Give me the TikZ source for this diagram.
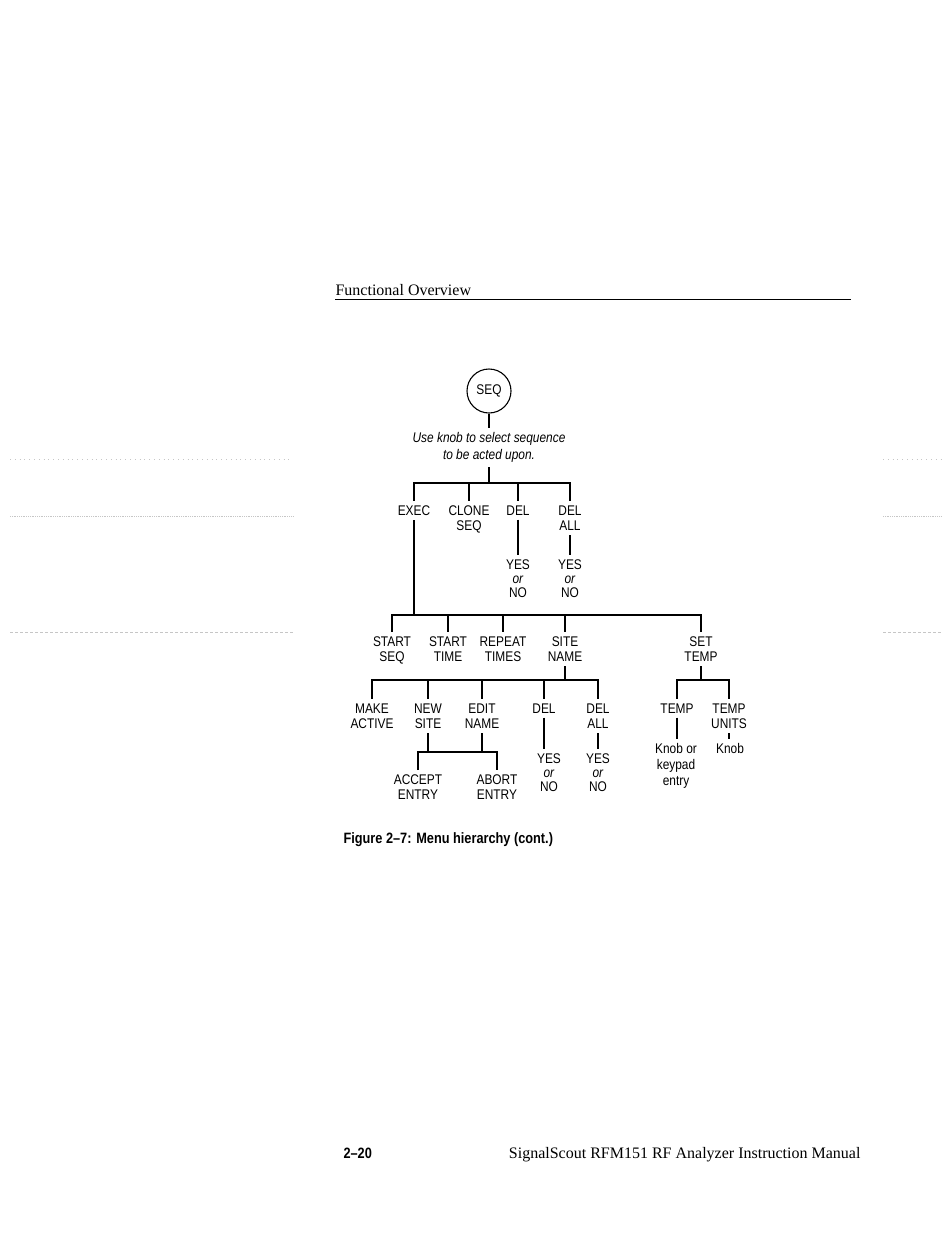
\documentclass[tikz,border=0pt]{standalone}
\usepackage{fontspec}
\setmainfont{Liberation Serif}
\newfontfamily\diag[FakeStretch=0.85]{Liberation Sans}

\begin{document}
\begin{tikzpicture}[x=1pt,y=-1pt,line width=1.1pt,
 lbl/.style={font=\diag\fontsize{14}{15.5}\selectfont,align=center,inner xsep=0pt,inner ysep=4pt,anchor=north},
 yn/.style={lbl,font=\diag\fontsize{14}{14}\selectfont},
 scan/.style={gray!45,line width=.8pt}]
 \fill[white] (0,0) rectangle (950,1237);
 \useasboundingbox (0,0) rectangle (950,1237);
 \foreach \y/\s in {459/loosely dotted,516/densely dotted,632/densely dashed}{
   \draw[scan,\s] (10,\y)--(293,\y);
   \draw[scan,\s] (883,\y)--(942,\y);}
 \node[anchor=base west,inner sep=0pt,font=\fontsize{16}{16}\selectfont] (hdr) at (335,295) {Functional Overview};
 \draw[line width=.6pt] (335,299)--(851,299);
 \node[draw,circle,minimum size=44pt,inner sep=0pt,font=\diag\fontsize{14}{14}\selectfont] (seq) at (489,391) {SEQ};
 \node[lbl,font=\diag\itshape\fontsize{14}{17}\selectfont] (note) at (489,428) {Use knob to select sequence\\to be acted upon.};
 \node[lbl] (exec) at (414,501) {EXEC};
 \node[lbl] (clone) at (469,501) {CLONE\\SEQ};
 \node[lbl] (del) at (518,501) {DEL};
 \node[lbl] (delall) at (570,501) {DEL\\ALL};
 \node[yn] (yn1) at (518,555) {YES\\\textit{or}\\NO};
 \node[yn] (yn2) at (570,555) {YES\\\textit{or}\\NO};
 \node[lbl] (startseq) at (392,632) {START\\SEQ};
 \node[lbl] (starttime) at (448,632) {START\\TIME};
 \node[lbl] (rpt) at (503,632) {REPEAT\\TIMES};
 \node[lbl] (sitename) at (565,632) {SITE\\NAME};
 \node[lbl] (settemp) at (701,632) {SET\\TEMP};
 \node[lbl] (makeact) at (372,699) {MAKE\\ACTIVE};
 \node[lbl] (newsite) at (428,699) {NEW\\SITE};
 \node[lbl] (editname) at (482,699) {EDIT\\NAME};
 \node[lbl] (del2) at (544,699) {DEL};
 \node[lbl] (delall2) at (598,699) {DEL\\ALL};
 \node[lbl] (temp) at (677,699) {TEMP};
 \node[lbl] (tempunits) at (729,699) {TEMP\\UNITS};
 \node[lbl] (accept) at (418,770) {ACCEPT\\ENTRY};
 \node[lbl] (abort) at (497,770) {ABORT\\ENTRY};
 \node[yn] (yn3) at (549,749) {YES\\\textit{or}\\NO};
 \node[yn] (yn4) at (598,749) {YES\\\textit{or}\\NO};
 \node[lbl,font=\diag\fontsize{14}{16}\selectfont] (knob1) at (676,739) {Knob or\\keypad\\entry};
 \node[lbl,font=\diag\fontsize{14}{16}\selectfont] (knob2) at (730,739) {Knob};
 \coordinate (j1) at (489,483);
 \coordinate (j2) at (414,615);
 \coordinate (j3) at (565,680);
 \coordinate (j4) at (455,752);
 \coordinate (j5) at (701,680);
 \draw (seq)--(note);
 \draw (note.south)--(j1);
 \foreach \n in {exec,clone,del,delall} \draw (j1)-|(\n.north);
 \draw (del)--(yn1);
 \draw (delall)--(yn2);
 \draw (exec.south)--(j2);
 \foreach \n in {startseq,starttime,rpt,sitename,settemp} \draw (j2)-|(\n.north);
 \draw (sitename.south)--(j3);
 \foreach \n in {makeact,newsite,editname,del2,delall2} \draw (j3)-|(\n.north);
 \draw (settemp.south)--(j5);
 \foreach \n in {temp,tempunits} \draw (j5)-|(\n.north);
 \draw (newsite.south)--(newsite.south|-j4);
 \draw (editname.south)--(editname.south|-j4);
 \draw (accept.north)|-(j4)-|(abort.north);
 \draw (del2.south)--(del2.south|-yn3.north);
 \draw (delall2)--(yn4);
 \draw (temp.south)--(temp.south|-knob1.north);
 \draw (tempunits.south)--(tempunits.south|-knob2.north);
 \node[anchor=base west,inner sep=0pt,font=\diag\bfseries\fontsize{15}{15}\selectfont] (cap) at (343,843) {Figure 2–7: Menu hierarchy (cont.)};
 \node[anchor=base west,inner sep=0pt,font=\diag\bfseries\fontsize{15}{15}\selectfont] (pg) at (343,1158) {2–20};
 \node[anchor=base east,inner sep=0pt,font=\fontsize{16}{16}\selectfont] (man) at (861,1158) {SignalScout RFM151 RF Analyzer Instruction Manual};
\end{tikzpicture}
\end{document}
